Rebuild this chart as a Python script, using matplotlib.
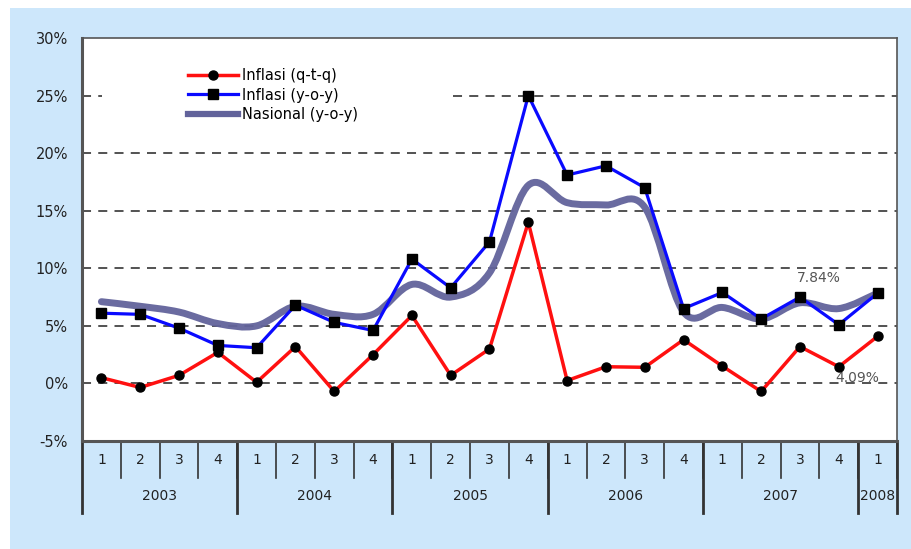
import numpy as np
import matplotlib
matplotlib.use("Agg")
import matplotlib.pyplot as plt
from matplotlib.path import Path
from matplotlib.patches import PathPatch, Rectangle
from matplotlib.lines import Line2D
import matplotlib.transforms as mtransforms

# data
kuartal = ["1", "2", "3", "4"] * 5 + ["1"]
tahun = ["2003", "2004", "2005", "2006", "2007", "2008"]
tahun_jml_kuartal = [4, 4, 4, 4, 4, 1]

inflasi_qtq = [0.5, -0.35, 0.7, 2.7, 0.1, 3.2, -0.7, 2.5, 5.9, 0.7, 3.0, 14.0,
               0.25, 1.45, 1.4, 3.8, 1.5, -0.7, 3.2, 1.45, 4.09]
inflasi_yoy = [6.1, 6.0, 4.8, 3.3, 3.1, 6.8, 5.3, 4.6, 10.8, 8.3, 12.3, 25.0,
               18.1, 18.9, 17.0, 6.5, 7.9, 5.6, 7.5, 5.1, 7.84]
nasional_yoy = [7.1, 6.7, 6.2, 5.2, 5.0, 6.7, 6.0, 6.0, 8.6, 7.5, 9.6, 17.2,
                15.7, 15.5, 15.3, 6.2, 6.6, 5.6, 7.0, 6.5, 7.84]
yticks = [-5, 0, 5, 10, 15, 20, 25, 30]

biru_latar = "#cde7fb"

fig = plt.figure(figsize=(9.12, 5.49), dpi=100, facecolor="white")
fig.patches.append(Rectangle((10 / 912, 0), 1, (549 - 8) / 549, transform=fig.transFigure,
                             facecolor=biru_latar, edgecolor="none", zorder=-10))

ax = fig.add_axes([82 / 912, (549 - 441) / 549, (897 - 82) / 912, (441 - 38) / 549])
ax.set_facecolor("white")

x = np.arange(len(inflasi_qtq))

# garis grid putus-putus
for g in [0, 5, 10, 15, 20]:
    ax.axhline(g, color="#444444", lw=1.3, ls=(0, (5, 4)), zorder=1)
ax.axhline(25, xmin=0, xmax=0.025, color="#444444", lw=1.3, ls=(0, (5, 4)), zorder=1)
ax.axhline(25, xmin=0.455, xmax=1, color="#444444", lw=1.3, ls=(0, (5, 4)), zorder=1)

# nasional: garis halus (kurva bezier lewat titik data)
pts = np.column_stack([x, nasional_yoy])
verts = [pts[0]]
codes = [Path.MOVETO]
for i in range(len(pts) - 1):
    p0 = pts[i - 1] if i > 0 else pts[i]
    p1 = pts[i]
    p2 = pts[i + 1]
    p3 = pts[i + 2] if i + 2 < len(pts) else pts[i + 1]
    verts += [p1 + (p2 - p0) / 6, p2 - (p3 - p1) / 6, p2]
    codes += [Path.CURVE4] * 3
ax.add_patch(PathPatch(Path(verts, codes), facecolor="none", edgecolor="#62639b",
                       lw=5, alpha=0.95, zorder=2, capstyle="round", joinstyle="round"))

ax.plot(x, inflasi_yoy, color="#0a0aff", lw=2.3, marker="s", ms=7.5,
        mfc="black", mec="black", zorder=3)
ax.plot(x, inflasi_qtq, color="#ff1010", lw=2.5, marker="o", ms=6.5,
        mfc="black", mec="black", zorder=4)

ax.annotate("7.84%", xy=(x[-1], inflasi_yoy[-1]), xytext=(-42, 11),
            textcoords="offset points", ha="center", va="center",
            fontsize=10, color="#555555")
ax.annotate("4.09%", xy=(x[-1], inflasi_qtq[-1]), xytext=(-15, -30),
            textcoords="offset points", ha="center", va="center",
            fontsize=10, color="#555555")

ax.set_xlim(-0.5, len(x) - 0.5)
ax.set_ylim(-5, 30)
ax.set_yticks(yticks)
ax.set_yticklabels([f"{v}%" for v in yticks], fontsize=10.5, color="#222222")
ax.tick_params(axis="y", length=0, pad=10)
ax.set_xticks([])
for s in ax.spines.values():
    s.set_color("#555555")
    s.set_linewidth(1.2)
ax.spines["left"].set_linewidth(2.2)
ax.spines["bottom"].set_linewidth(2.2)

# tabel kuartal / tahun di bawah sumbu
trans = mtransforms.blended_transform_factory(ax.transData, ax.transAxes)
baris1 = -37 / 403
baris2 = -72 / 403
for i, q in enumerate(kuartal):
    ax.text(i, baris1 / 2, q, transform=trans, ha="center", va="center",
            fontsize=10, color="#222222", clip_on=False)
    ax.add_line(Line2D([i + 0.5, i + 0.5], [0, baris1], transform=trans,
                       color="#333333", lw=1.2, clip_on=False))
awal = -0.5
ax.add_line(Line2D([awal, awal], [0, baris2], transform=trans,
                   color="#333333", lw=2, clip_on=False))
for th, n in zip(tahun, tahun_jml_kuartal):
    akhir = awal + n
    ax.text((awal + akhir) / 2, (baris1 + baris2) / 2, th, transform=trans,
            ha="center", va="center", fontsize=10, color="#222222", clip_on=False)
    ax.add_line(Line2D([akhir, akhir], [0, baris2], transform=trans,
                       color="#333333", lw=2, clip_on=False))
    awal = akhir

# legenda
handles = [
    Line2D([], [], color="#ff1010", lw=2.5, marker="o", ms=6.5, mfc="black", mec="black"),
    Line2D([], [], color="#0a0aff", lw=2.3, marker="s", ms=7.5, mfc="black", mec="black"),
    Line2D([], [], color="#62639b", lw=4.5),
]
labels = ["Inflasi (q-t-q)", "Inflasi (y-o-y)", "Nasional (y-o-y)"]
ax.legend(handles, labels, loc="upper left", bbox_to_anchor=(0.13, 0.925),
          frameon=False, fontsize=10.5, handlelength=3.4, handletextpad=0.3,
          labelspacing=0.3, borderpad=0, borderaxespad=0)

fig.savefig("out.png", dpi=100, facecolor=fig.get_facecolor())
